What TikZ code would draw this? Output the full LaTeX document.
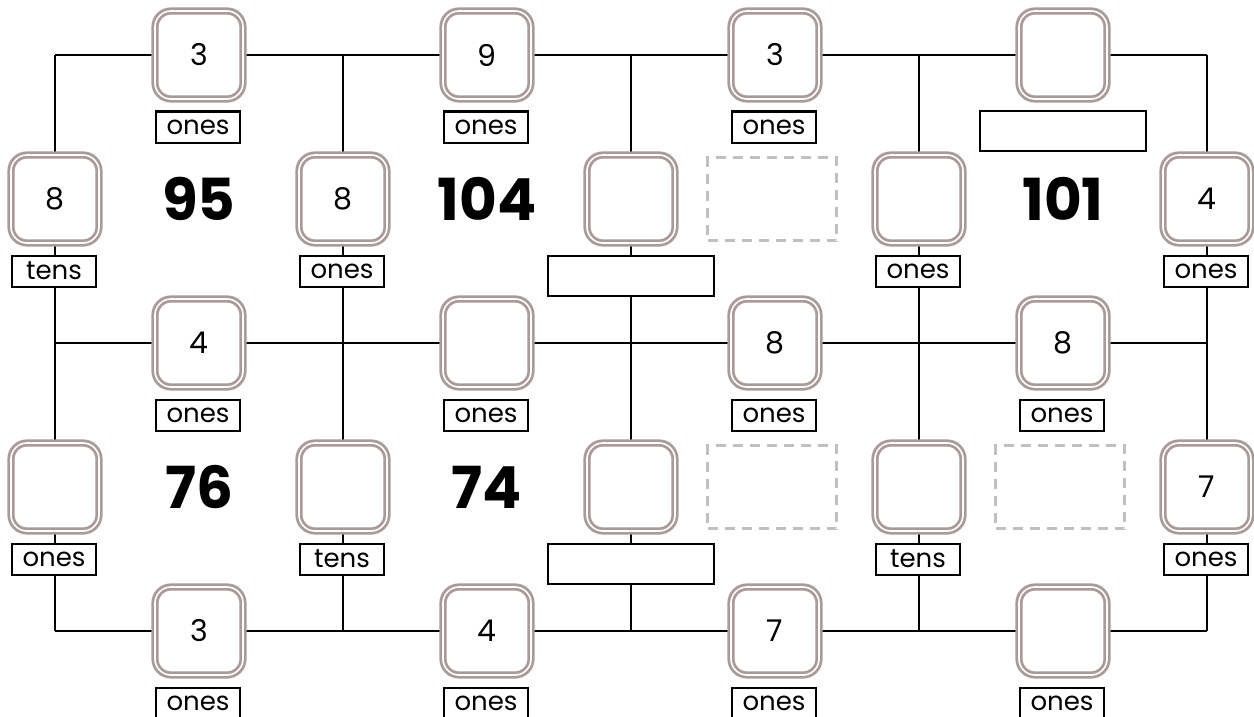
\documentclass[tikz,border=0pt]{standalone}
\usepackage{fontspec}
\setmainfont{Poppins}
\usetikzlibrary{backgrounds}
\definecolor{boxgray}{RGB}{168,155,153}
\definecolor{dashgray}{RGB}{192,192,192}
\tikzset{
  numbox/.style={draw=boxgray, double=white, double distance=1.6pt, line width=2.8pt,
    rounded corners=16pt, minimum width=88pt, minimum height=88pt, fill=white,
    inner sep=0pt, font=\fontsize{30}{32}\selectfont},
  lbl/.style={draw=black, line width=2pt, fill=white, minimum width=84pt,
    minimum height=31pt, inner sep=0pt, font=\fontsize{26}{28}\selectfont},
  widebox/.style={draw=black, line width=2.6pt, fill=white, minimum width=166pt,
    minimum height=40pt, inner sep=0pt},
  dashbox/.style={draw=dashgray, line width=2.2pt, dash pattern=on 10pt off 7pt,
    minimum width=129pt, minimum height=83pt, inner sep=0pt},
  bignum/.style={font=\fontsize{58}{60}\selectfont\bfseries, inner sep=0pt},
  gridline/.style={draw=black, line width=2.2pt}
}
\begin{document}
\begin{tikzpicture}[x=1pt,y=-1pt]
\useasboundingbox (0,0) rectangle (1254,717);
% grid corners
\foreach \i/\x in {0/55,1/343,2/631,3/919,4/1207}{
  \foreach \j/\y in {0/55,1/343,2/631}{
    \coordinate (g\i\j) at (\x,\y);
  }
}
% horizontal boxes
\node[numbox] (h00) at (199,55) {3};
\node[numbox] (h10) at (487,55) {9};
\node[numbox] (h20) at (775,55) {3};
\node[numbox] (h30) at (1063,55) {};
\node[numbox] (h01) at (199,343) {4};
\node[numbox] (h11) at (487,343) {};
\node[numbox] (h21) at (775,343) {8};
\node[numbox] (h31) at (1063,343) {8};
\node[numbox] (h02) at (199,631) {3};
\node[numbox] (h12) at (487,631) {4};
\node[numbox] (h22) at (775,631) {7};
\node[numbox] (h32) at (1063,631) {};
% vertical boxes
\node[numbox] (v00) at (55,199) {8};
\node[numbox] (v10) at (343,199) {8};
\node[numbox] (v20) at (631,199) {};
\node[numbox] (v30) at (919,199) {};
\node[numbox] (v40) at (1207,199) {4};
\node[numbox] (v01) at (55,487) {};
\node[numbox] (v11) at (343,487) {};
\node[numbox] (v21) at (631,487) {};
\node[numbox] (v31) at (919,487) {};
\node[numbox] (v41) at (1207,487) {7};
% labels under horizontal boxes
\node[lbl] (lh00) at (198,127) {ones};
\node[lbl] (lh10) at (486,127) {ones};
\node[lbl] (lh20) at (774,127) {ones};
\node[widebox] (lh30) at (1063,131) {};
\node[lbl] (lh01) at (198,415) {ones};
\node[lbl] (lh11) at (486,415) {ones};
\node[lbl] (lh21) at (774,415) {ones};
\node[lbl] (lh31) at (1062,415) {ones};
\node[lbl] (lh02) at (198,703) {ones};
\node[lbl] (lh12) at (486,703) {ones};
\node[lbl] (lh22) at (774,703) {ones};
\node[lbl] (lh32) at (1062,703) {ones};
% labels under vertical boxes
\node[lbl] (lv00) at (54,271) {tens};
\node[lbl] (lv10) at (342,271) {ones};
\node[widebox] (lv20) at (631,276) {};
\node[lbl] (lv30) at (918,271) {ones};
\node[lbl] (lv40) at (1206,271) {ones};
\node[lbl] (lv01) at (54,559) {ones};
\node[lbl] (lv11) at (342,559) {tens};
\node[widebox] (lv21) at (631,564) {};
\node[lbl] (lv31) at (918,559) {tens};
\node[lbl] (lv41) at (1206,559) {ones};
% centre numbers
\node[bignum] (n00) at (199,199) {95};
\node[bignum] (n10) at (487,199) {104};
\node[dashbox] (d20) at (772,199) {};
\node[bignum] (n30) at (1063,199) {101};
\node[bignum] (n01) at (199,487) {76};
\node[bignum] (n11) at (487,487) {74};
\node[dashbox] (d21) at (772,487) {};
\node[dashbox] (d31) at (1060,487) {};
% grid lines
\begin{scope}[on background layer]
\foreach \j in {0,1,2}{
  \draw[gridline] (g0\j) -- (g4\j);
}
\foreach \i in {0,1,2,3,4}{
  \draw[gridline] (g\i0) -- (g\i2);
}
\end{scope}
\end{tikzpicture}
\end{document}
